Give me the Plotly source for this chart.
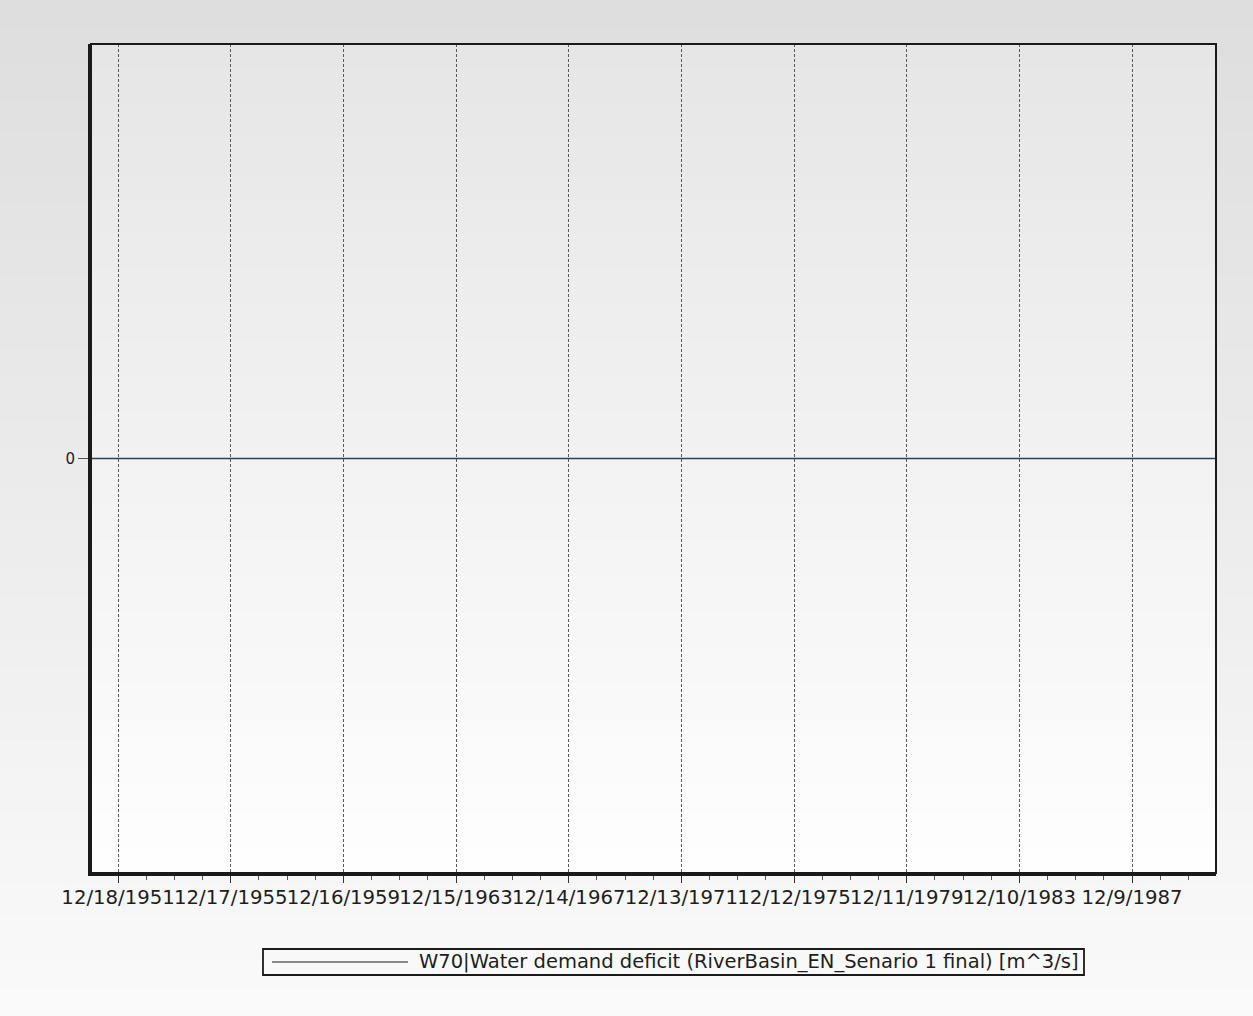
import pandas as pd
import plotly.graph_objects as go

# monthly series, flat at zero over the whole period
DATES = pd.date_range("1951-01-01", "1990-12-01", freq="MS")
DEFICIT = [0.0] * len(DATES)

SERIES_NAME = "W70|Water demand deficit (RiverBasin_EN_Senario 1 final) [m^3/s]"

TICK_DATES = ["1951-12-18", "1955-12-17", "1959-12-16", "1963-12-15", "1967-12-14",
              "1971-12-13", "1975-12-12", "1979-12-11", "1983-12-10", "1987-12-09"]
TICK_LABELS = ["12/18/1951", "12/17/1955", "12/16/1959", "12/15/1963", "12/14/1967",
               "12/13/1971", "12/12/1975", "12/11/1979", "12/10/1983", "12/9/1987"]

FONT = "DejaVu Sans"
W, H = 1253, 1016
L, R, T, B = 91, 37, 44, 143


def blend(c0, c1, t):
    a = [int(c0[i:i + 2], 16) for i in (1, 3, 5)]
    b = [int(c1[i:i + 2], 16) for i in (1, 3, 5)]
    return "#" + "".join(f"{round(x + (y - x) * t):02x}" for x, y in zip(a, b))


def gradient(x0, x1, y_top, y_bot, c_top, c_bot, steps=60):
    shapes = []
    h = (y_top - y_bot) / steps
    for i in range(steps):
        shapes.append(dict(
            type="rect", xref="paper", yref="paper", layer="below",
            x0=x0, x1=x1, y0=y_top - (i + 1) * h - 0.001, y1=y_top - i * h,
            fillcolor=blend(c_top, c_bot, i / (steps - 1)), line=dict(width=0),
        ))
    return shapes


pw, ph = W - L - R, H - T - B
px_x = lambda p: (p - L) / pw
px_y = lambda p: (H - B - p) / ph

fig = go.Figure(go.Scatter(
    x=DATES, y=DEFICIT, mode="lines", name=SERIES_NAME,
    line=dict(color="#2c4058", width=1.6), showlegend=False,
))

shapes = gradient(px_x(0), px_x(W), px_y(0), px_y(H), "#dedede", "#fafafa", 70)
shapes += gradient(0, 1, 1, 0, "#e6e6e6", "#fefefe", 70)
# frame of the plot area
shapes.append(dict(type="rect", xref="paper", yref="paper", x0=0, x1=1, y0=0, y1=1,
                   line=dict(color="#1a1a1a", width=2), layer="above"))
# legend box and sample line
shapes.append(dict(type="rect", xref="paper", yref="paper",
                   x0=px_x(263), x1=px_x(1084), y0=px_y(975), y1=px_y(949),
                   line=dict(color="#1a1a1a", width=1.8), fillcolor="rgba(0,0,0,0)"))
shapes.append(dict(type="line", xref="paper", yref="paper",
                   x0=px_x(272), x1=px_x(408), y0=px_y(962), y1=px_y(962),
                   line=dict(color="#1a1a1a", width=1)))

fig.add_annotation(text=SERIES_NAME, xref="paper", yref="paper",
                   x=px_x(417), y=px_y(962), xanchor="left", yanchor="middle",
                   showarrow=False, font=dict(family=FONT, size=19.5, color="#1e1e1e"))

fig.update_layout(
    width=W, height=H,
    margin=dict(l=L, r=R, t=T, b=B),
    paper_bgcolor="#f2f2f2",
    plot_bgcolor="rgba(0,0,0,0)",
    shapes=shapes,
    showlegend=False,
    font=dict(family=FONT, color="#1e1e1e"),
)
fig.update_xaxes(
    type="date", range=["1951-01-01", "1990-12-01"],
    tickmode="array", tickvals=TICK_DATES, ticktext=TICK_LABELS, tickangle=0,
    tickfont=dict(size=19.7), ticks="outside", ticklen=7, tickcolor="#333",
    ticklabelstandoff=-3,
    showgrid=True, gridcolor="#5a5a5a", griddash="3px,2px", gridwidth=1,
    minor=dict(tick0="1951-12-18", dtick=365 * 86400000, ticks="outside",
               ticklen=4, tickcolor="#555", showgrid=False),
    showline=True, linecolor="#1a1a1a", linewidth=3, zeroline=False,
)
fig.update_yaxes(
    range=[-1, 1], tickmode="array", tickvals=[0], ticktext=["0"],
    tickfont=dict(size=15), ticks="outside", ticklen=10, tickcolor="#555",
    showgrid=False, zeroline=False,
    showline=True, linecolor="#1a1a1a", linewidth=3,
)

fig.write_html("out.html", config={"displayModeBar": False},
               post_script="document.body.style.margin='0';")
